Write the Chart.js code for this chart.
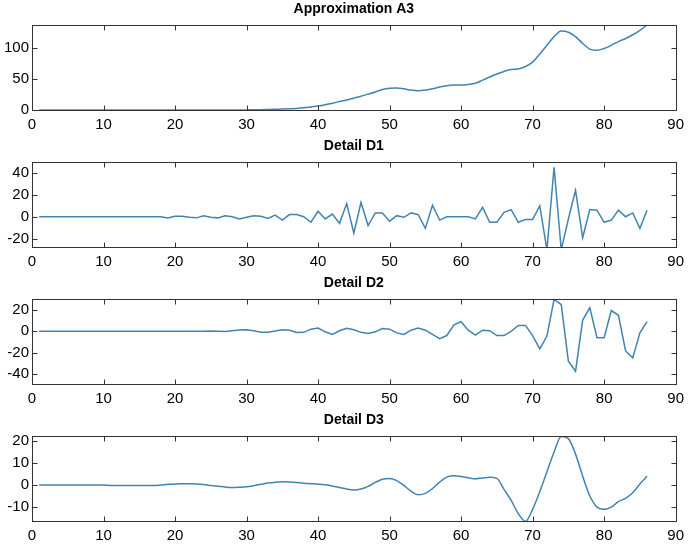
<!DOCTYPE html>
<html>
<head>
<meta charset="utf-8">
<script src="https://cdn.jsdelivr.net/npm/chart.js@4.4.0/dist/chart.umd.min.js"></script>
<style>
  html, body { margin: 0; padding: 0; background: #fff; }
  #wrap { width: 690px; height: 548px; position: relative; }
  .panel { position: absolute; left: 0; width: 690px; height: 137px; }
</style>
</head>
<body>
<div id="wrap">
  <div class="panel" style="top:0px"><canvas id="a3" width="690" height="137"></canvas></div>
  <div class="panel" style="top:137px"><canvas id="d1" width="690" height="137"></canvas></div>
  <div class="panel" style="top:274px"><canvas id="d2" width="690" height="137"></canvas></div>
  <div class="panel" style="top:411px"><canvas id="d3" width="690" height="137"></canvas></div>
</div>
<script>
// sample index 1..86
const sampleIndex = Array.from({ length: 86 }, (_, i) => i + 1);
const xTicks = [0, 10, 20, 30, 40, 50, 60, 70, 80, 90];

const approxA3 = [
  0, 0, 0, 0, 0, 0, 0, 0, 0, 0,
  0, 0, 0, 0, 0, 0, 0, 0, 0, 0,
  0, 0, 0, 0, 0, 0, 0, 0, 0.1, 0.2,
  0.3, 0.6, 1, 1.3, 1.6, 2, 2.5, 3.5, 5, 6.5,
  8.5, 11, 13.5, 16, 19, 22, 25.5, 29, 33, 35,
  35.5, 34, 32, 31, 32, 34, 37, 39, 40, 40,
  41, 43, 48, 53, 58, 62, 65, 66, 70, 77,
  90, 104, 118, 127, 125, 118, 107, 98, 96, 99,
  104, 110, 115, 121, 128, 137,
];
const detailD1 = [
  0, 0, 0, 0, 0, 0, 0, 0, 0, 0,
  0, 0, 0, 0, 0, 0, 0, 0, -1, 0.5,
  0.5, -0.5, -1, 0.8, -0.5, -1, 1, 0, -2, -0.5,
  1, 0.5, -1.5, 1.5, -3, 2, 2, 0, -5, 5,
  -2, 2.5, -6, 12, -15, 13, -8, 3.5, 3.5, -4,
  1, -0.5, 3.5, 2, -10.5, 10.5, -3, 0, 0, 0,
  0, -2, 8.5, -5, -5, 4, 6.5, -5, -2.5, -2.5,
  10, -30, 45, -30, -2, 24, -19, 6.5, 6, -5,
  -3, 6, 0, 3.5, -10.5, 6,
];
const detailD2 = [
  0, 0, 0, 0, 0, 0, 0, 0, 0, 0,
  0, 0, 0, 0, 0, 0, 0, 0, 0, 0,
  0, 0, 0, 0, 0.2, 0, -0.3, 0.5, 1.2, 1.5,
  0.5, -1, -1, 0.3, 1.5, 1, -1.2, -1, 2, 3,
  -0.5, -3, 0.5, 2.8, 1.5, -1, -2, -0.5, 2.5, 2,
  -1.5, -3, 1, 3, 1, -3, -7, -4, 6, 9,
  1, -3.5, 1, 0.5, -4, -4, 0, 5.5, 5.5, -4,
  -16.5, -4.5, 30, 25, -28, -37.5, 10.5, 22, -6, -6,
  19.5, 15, -18.5, -25, -1.5, 9,
];
const detailD3 = [
  0, 0, 0, 0, 0, 0, 0, 0, 0, 0,
  -0.2, -0.2, -0.2, -0.2, -0.2, -0.2, -0.2, 0, 0.3, 0.5,
  0.6, 0.6, 0.5, 0.2, -0.2, -0.6, -0.9, -1.1, -1, -0.8,
  -0.3, 0.3, 0.9, 1.3, 1.5, 1.4, 1.1, 0.8, 0.6, 0.4,
  0.1, -0.4, -1.1, -1.8, -2.2, -1.8, -0.6, 1.2, 2.6, 3,
  2, -0.2, -2.8, -4.4, -3.8, -1.6, 1.3, 3.6, 4.2, 3.9,
  3.3, 2.8, 3.2, 3.5, 3, -2, -7, -13, -16.5, -11,
  -3, 6, 15, 22, 21, 14, 4, -5, -10, -11,
  -10, -7.5, -6, -3.5, 0.5, 4,
];

const FONT = "'Liberation Sans', Arial, sans-serif";
const LINE_COLOR = "#4284b0";
const TICK_LEN = 5;

// box round the axes plus inward tick marks on all four sides
const framePlugin = {
  id: "frame",
  afterDraw(chart) {
    const { ctx, chartArea: a, scales } = chart;
    const l = Math.round(a.left) + 0.5, r = Math.round(a.right) + 0.5;
    const t = Math.round(a.top) + 0.5, b = Math.round(a.bottom) + 0.5;
    ctx.save();
    ctx.strokeStyle = "#333";
    ctx.lineWidth = 1;
    ctx.strokeRect(l, t, r - l, b - t);
    ctx.beginPath();
    scales.x.ticks.forEach((tk) => {
      const px = Math.round(scales.x.getPixelForValue(tk.value)) + 0.5;
      ctx.moveTo(px, t); ctx.lineTo(px, t + TICK_LEN);
      ctx.moveTo(px, b); ctx.lineTo(px, b - TICK_LEN);
    });
    scales.y.ticks.forEach((tk) => {
      const py = Math.round(scales.y.getPixelForValue(tk.value)) + 0.5;
      ctx.moveTo(l, py); ctx.lineTo(l + TICK_LEN, py);
      ctx.moveTo(r, py); ctx.lineTo(r - TICK_LEN, py);
    });
    ctx.stroke();
    ctx.restore();
  },
};

function makePanel(id, title, values, yMin, yMax, yTicks, smooth) {
  new Chart(document.getElementById(id), {
    type: "line",
    data: {
      datasets: [
        {
          data: sampleIndex.map((x, i) => ({ x, y: values[i] })),
          borderColor: LINE_COLOR,
          borderWidth: 1.5,
          pointRadius: 0,
          fill: false,
          tension: smooth ? 0.4 : 0,
          cubicInterpolationMode: smooth ? "monotone" : "default",
        },
      ],
    },
    options: {
      responsive: false,
      animation: false,
      events: [],
      layout: { padding: { left: 0, right: 11, top: 0, bottom: 0 } },
      plugins: {
        legend: { display: false },
        tooltip: { enabled: false },
        title: {
          display: true,
          text: title,
          fullSize: false,
          color: "#000",
          font: { family: FONT, size: 14, weight: "bold" },
          padding: { top: 1, bottom: 7 },
        },
      },
      scales: {
        x: {
          type: "linear",
          min: 0,
          max: 90,
          afterFit: (s) => { s.height = 27; },
          afterBuildTicks: (s) => { s.ticks = xTicks.map((v) => ({ value: v })); },
          grid: { display: false, drawTicks: false },
          border: { display: false },
          ticks: { color: "#000", font: { family: FONT, size: 15 }, padding: 6, maxRotation: 0, autoSkip: false },
        },
        y: {
          min: yMin,
          max: yMax,
          afterFit: (s) => { s.width = 32; },
          afterBuildTicks: (s) => { s.ticks = yTicks.map((v) => ({ value: v })); },
          grid: { display: false, drawTicks: false },
          border: { display: false },
          ticks: { color: "#000", font: { family: FONT, size: 15 }, padding: 3 },
        },
      },
    },
    plugins: [framePlugin],
  });
}

makePanel("a3", "Approximation A3", approxA3, 0, 137, [0, 50, 100], true);
makePanel("d1", "Detail D1", detailD1, -27.5, 50, [-20, 0, 20, 40], false);
makePanel("d2", "Detail D2", detailD2, -49.5, 30.5, [-40, -20, 0, 20], false);
makePanel("d3", "Detail D3", detailD3, -16.3, 22.3, [-10, 0, 10, 20], true);
</script>
</body>
</html>
